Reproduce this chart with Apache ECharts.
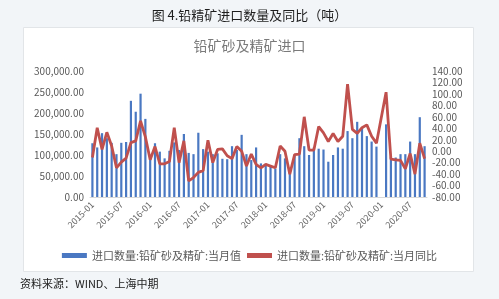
<!DOCTYPE html>
<html>
<head>
<meta charset="utf-8">
<script src="https://cdn.jsdelivr.net/npm/echarts@6/dist/echarts.min.js"></script>
<style>
html,body{margin:0;padding:0;background:#f2f5f8;}
#c{width:499px;height:299px;}
</style>
</head>
<body>
<div id="c"></div>
<script>
const categories = [
"2015-01","2015-02","2015-03","2015-04","2015-05","2015-06","2015-07","2015-08","2015-09","2015-10","2015-11","2015-12",
"2016-01","2016-02","2016-03","2016-04","2016-05","2016-06","2016-07","2016-08","2016-09","2016-10","2016-11","2016-12",
"2017-01","2017-02","2017-03","2017-04","2017-05","2017-06","2017-07","2017-08","2017-09","2017-10","2017-11","2017-12",
"2018-01","2018-02","2018-03","2018-04","2018-05","2018-06","2018-07","2018-08","2018-09","2018-10","2018-11","2018-12",
"2019-01","2019-02","2019-03","2019-04","2019-05","2019-06","2019-07","2019-08","2019-09","2019-10","2019-11","2019-12",
"2020-01","2020-02","2020-03","2020-04","2020-05","2020-06","2020-07","2020-08","2020-09","2020-10"];

// 进口数量:铅矿砂及精矿:当月值 (吨)
const monthlyValue = [
128000,118000,152000,140000,129000,102000,129000,131000,229000,203000,246000,186000,
100000,128000,108000,92000,110000,130000,112000,150000,105000,102000,153000,114000,
108000,102000,104000,91000,90000,121000,112000,148000,102000,88000,118000,80000,
76000,74000,68000,102000,92000,60000,100000,140000,121000,100000,118000,115000,
113000,84000,100000,118000,115000,157000,140000,179000,165000,145000,132000,120000,
null,173000,96000,94000,102000,102000,132000,102000,190000,121000];

// 进口数量:铅矿砂及精矿:当月同比 (%)
const yoyValue = [
-11,41,3,33,9,-29,-19,-12,15,18,53,25,
-15,8,-22,-22,-18,41,-20,18,-52,-46,-37,-34,
19,-20,3,4,-8,-13,8,0,-26,-5,-23,-29,
-23,-26,-29,9,0,-40,-6,-5,60,2,2,43,
32,17,31,17,26,117,38,31,41,46,26,14,
null,103,-14,-15,-16,-31,-4,-40,14,-13];

const leftTicks = {min:0, max:300000, interval:50000};
const rightTicks = {min:-80, max:140, interval:20};

const chart = echarts.init(document.getElementById('c'));
const gray = '#595959';
const fontFam = '"Noto Sans CJK SC", "Noto Sans", sans-serif';
chart.setOption({
  backgroundColor: '#f2f5f8',
  animation: false,
  textStyle: {fontFamily: fontFam},
  graphic: [
    {type:'rect', shape:{x:23.5, y:27.5, width:450, height:244}, style:{fill:'#ffffff', stroke:'#e2e5e8', lineWidth:1}, z:-1},
    {type:'text', left:20, top:278, style:{text:'资料来源：WIND、上海中期', fill:'#222', fontSize:11, fontFamily:fontFam}}
  ],
  title: [
    {text:'图 4.铅精矿进口数量及同比（吨）', left:'center', top:4, textStyle:{fontSize:13, fontWeight:'normal', color:'#1e1e1e', fontFamily:fontFam}},
    {text:'铅矿砂及精矿进口', left:'center', top:34, textStyle:{fontSize:14, fontWeight:'normal', color:'#7a7a7a', fontFamily:fontFam}}
  ],
  legend: {
    bottom: 33, left: 'center', itemGap: 6,
    itemWidth: 25, itemHeight: 5,
    textStyle: {fontSize: 11, color: gray, fontFamily: fontFam},
    data: [
      {name:'进口数量:铅矿砂及精矿:当月值', icon:'rect'},
      {name:'进口数量:铅矿砂及精矿:当月同比', icon:'rect', itemStyle:{color:'#c0504d'}}
    ]
  },
  grid: {left: 90, right: 72, top: 71, bottom: 102},
  xAxis: {
    type: 'category', data: categories,
    axisLine: {lineStyle: {color: '#d9d9d9'}},
    axisTick: {interval: 5, alignWithLabel: true, lineStyle:{color:'#d9d9d9'}, length:3},
    axisLabel: {interval: 5, rotate: 45, fontSize: 9, color: '#666', margin: 6}
  },
  yAxis: [
    {type:'value', min:leftTicks.min, max:leftTicks.max, interval:leftTicks.interval,
     splitLine:{show:false}, axisLine:{show:false}, axisTick:{show:false},
     axisLabel:{fontSize:10, color:gray, margin:6,
       formatter: v => v.toLocaleString('en-US',{minimumFractionDigits:2, maximumFractionDigits:2})}},
    {type:'value', min:rightTicks.min, max:rightTicks.max, interval:rightTicks.interval,
     splitLine:{show:false}, axisLine:{show:false}, axisTick:{show:false},
     axisLabel:{fontSize:10, color:gray, margin:5, formatter: v => v.toFixed(2)}}
  ],
  series: [
    {name:'进口数量:铅矿砂及精矿:当月值', type:'bar', data: monthlyValue, yAxisIndex:0,
     barWidth: 2.2, itemStyle:{color:'#4a78c2'}},
    {name:'进口数量:铅矿砂及精矿:当月同比', type:'line', data: yoyValue, yAxisIndex:1,
     connectNulls: true, symbol:'none', lineStyle:{color:'#c0504d', width:2.8}, itemStyle:{color:'#c0504d'}}
  ]
});
</script>
</body>
</html>
